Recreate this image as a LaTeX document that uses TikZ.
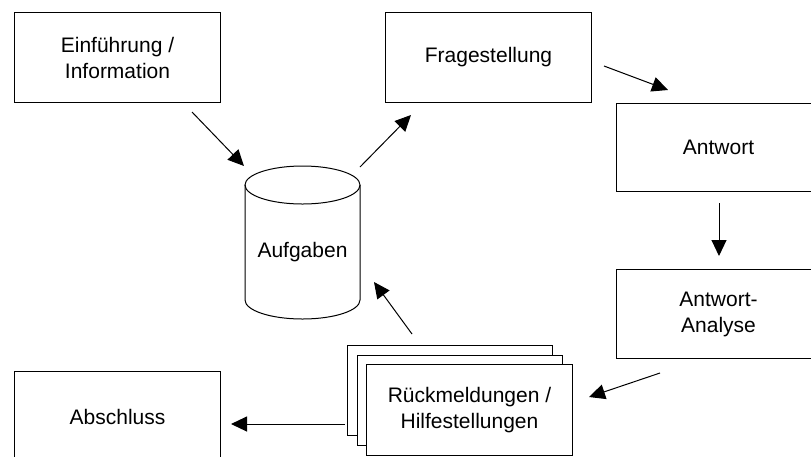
\documentclass[tikz,border=0pt]{standalone}
\usepackage{fontspec}
\setmainfont{Liberation Sans}
\usetikzlibrary{arrows.meta}
\begin{document}
\begin{tikzpicture}[x=1pt,y=-1pt,
  box/.style={draw, line width=1pt, fill=white, align=center, inner sep=0pt,
              anchor=north west, font=\fontsize{21}{26}\selectfont},
  label/.style={align=center, inner sep=0pt, font=\fontsize{21}{26}\selectfont},
  arr/.style={line width=1pt, -{Triangle[length=16pt,width=15pt]}}]
\useasboundingbox (0,0) rectangle (811,456);
\clip (0,0) rectangle (811,456);

% process steps
\node[box, minimum width=206, minimum height=90] (ein)   at (14,12)  {Einführung /\\Information};
\node[box, minimum width=206, minimum height=90] (frage) at (385,12) {Fragestellung};
\node[box, minimum width=204, minimum height=88] (antw)  at (616,103) {Antwort};
\node[box, minimum width=204, minimum height=89] (ana)   at (616,269) {Antwort-\\Analyse};
\node[box, minimum width=206, minimum height=90] (absch) at (14,371) {Abschluss};

% stacked feedback cards
\node[box, minimum width=205, minimum height=90] (back) at (347,345) {};
\node[box, minimum width=205, minimum height=90] (mid)  at (357,355) {};
\node[box, minimum width=206, minimum height=91] (rueck) at (366,364) {Rückmeldungen /\\Hilfestellungen};

% task store (cylinder)
\draw[line width=1pt] (245,185) -- (245,300) arc[start angle=180, end angle=360, x radius=57.5, y radius=-19]
  -- (360,185);
\draw[line width=1pt] (302.5,185) ellipse[x radius=57.5, y radius=19];
\node[label] (cyl) at (302.5,252) {Aufgaben};

% connector end points
\coordinate (einOut)   at (192,112);
\coordinate (cylInA)   at (244,166);
\coordinate (cylOut)   at (360,167);
\coordinate (frageIn)  at (411,115);
\coordinate (frageOut) at (604,66);
\coordinate (antwIn)   at (668,90);
\coordinate (antwOut)  at (719,203);
\coordinate (anaIn)    at (719,256);
\coordinate (anaOut)   at (660,373);
\coordinate (rueckIn)  at (589,397);
\coordinate (rueckOut) at (412,334);
\coordinate (cylInB)   at (374,282);
\coordinate (rueckOutB) at (345,424);
\coordinate (abschIn)  at (231,424);

\draw[arr] (einOut) -- (cylInA);
\draw[arr] (cylOut) -- (frageIn);
\draw[arr] (frageOut) -- (antwIn);
\draw[arr] (antwOut) -- (anaIn);
\draw[arr] (anaOut) -- (rueckIn);
\draw[arr] (rueckOut) -- (cylInB);
\draw[arr] (rueckOutB) -- (abschIn);
\end{tikzpicture}
\end{document}
